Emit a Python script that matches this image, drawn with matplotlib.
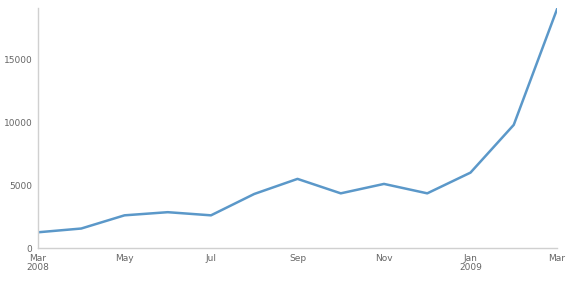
import numpy as np
import matplotlib.pyplot as plt

# monthly values, Mar 2008 .. Mar 2009
months = ['Mar\n2008', 'Apr', 'May', 'Jun', 'Jul', 'Aug', 'Sep', 'Oct',
          'Nov', 'Dec', 'Jan\n2009', 'Feb', 'Mar']
values = [1250, 1550, 2600, 2850, 2600, 4300, 5500, 4350, 5100, 4350, 6000, 9800, 19000]
yticks = [0, 5000, 10000, 15000]

x = np.arange(len(months))

fig = plt.figure(figsize=(5.71, 2.81), dpi=100)
ax = fig.add_axes([38/571, 1-248/281, (557-38)/571, (248-8)/281])

ax.plot(x, values, color='#5b98c9', lw=1.8, solid_joinstyle='round')

ax.set_xlim(0, 12)
ax.set_ylim(0, 19100)
ax.set_xticks(x[::2])
ax.set_xticklabels(months[::2])
ax.set_yticks(yticks)
ax.set_yticklabels([str(v) for v in yticks])

for s in ['top', 'right']:
    ax.spines[s].set_visible(False)
for s in ['left', 'bottom']:
    ax.spines[s].set_color('#d0d0d0')
    ax.spines[s].set_linewidth(1)
ax.tick_params(length=0, labelsize=6.5, colors='#666666', pad=4)
for lab in ax.get_xticklabels():
    lab.set_linespacing(1.0)

fig.savefig('out.png', dpi=100)
